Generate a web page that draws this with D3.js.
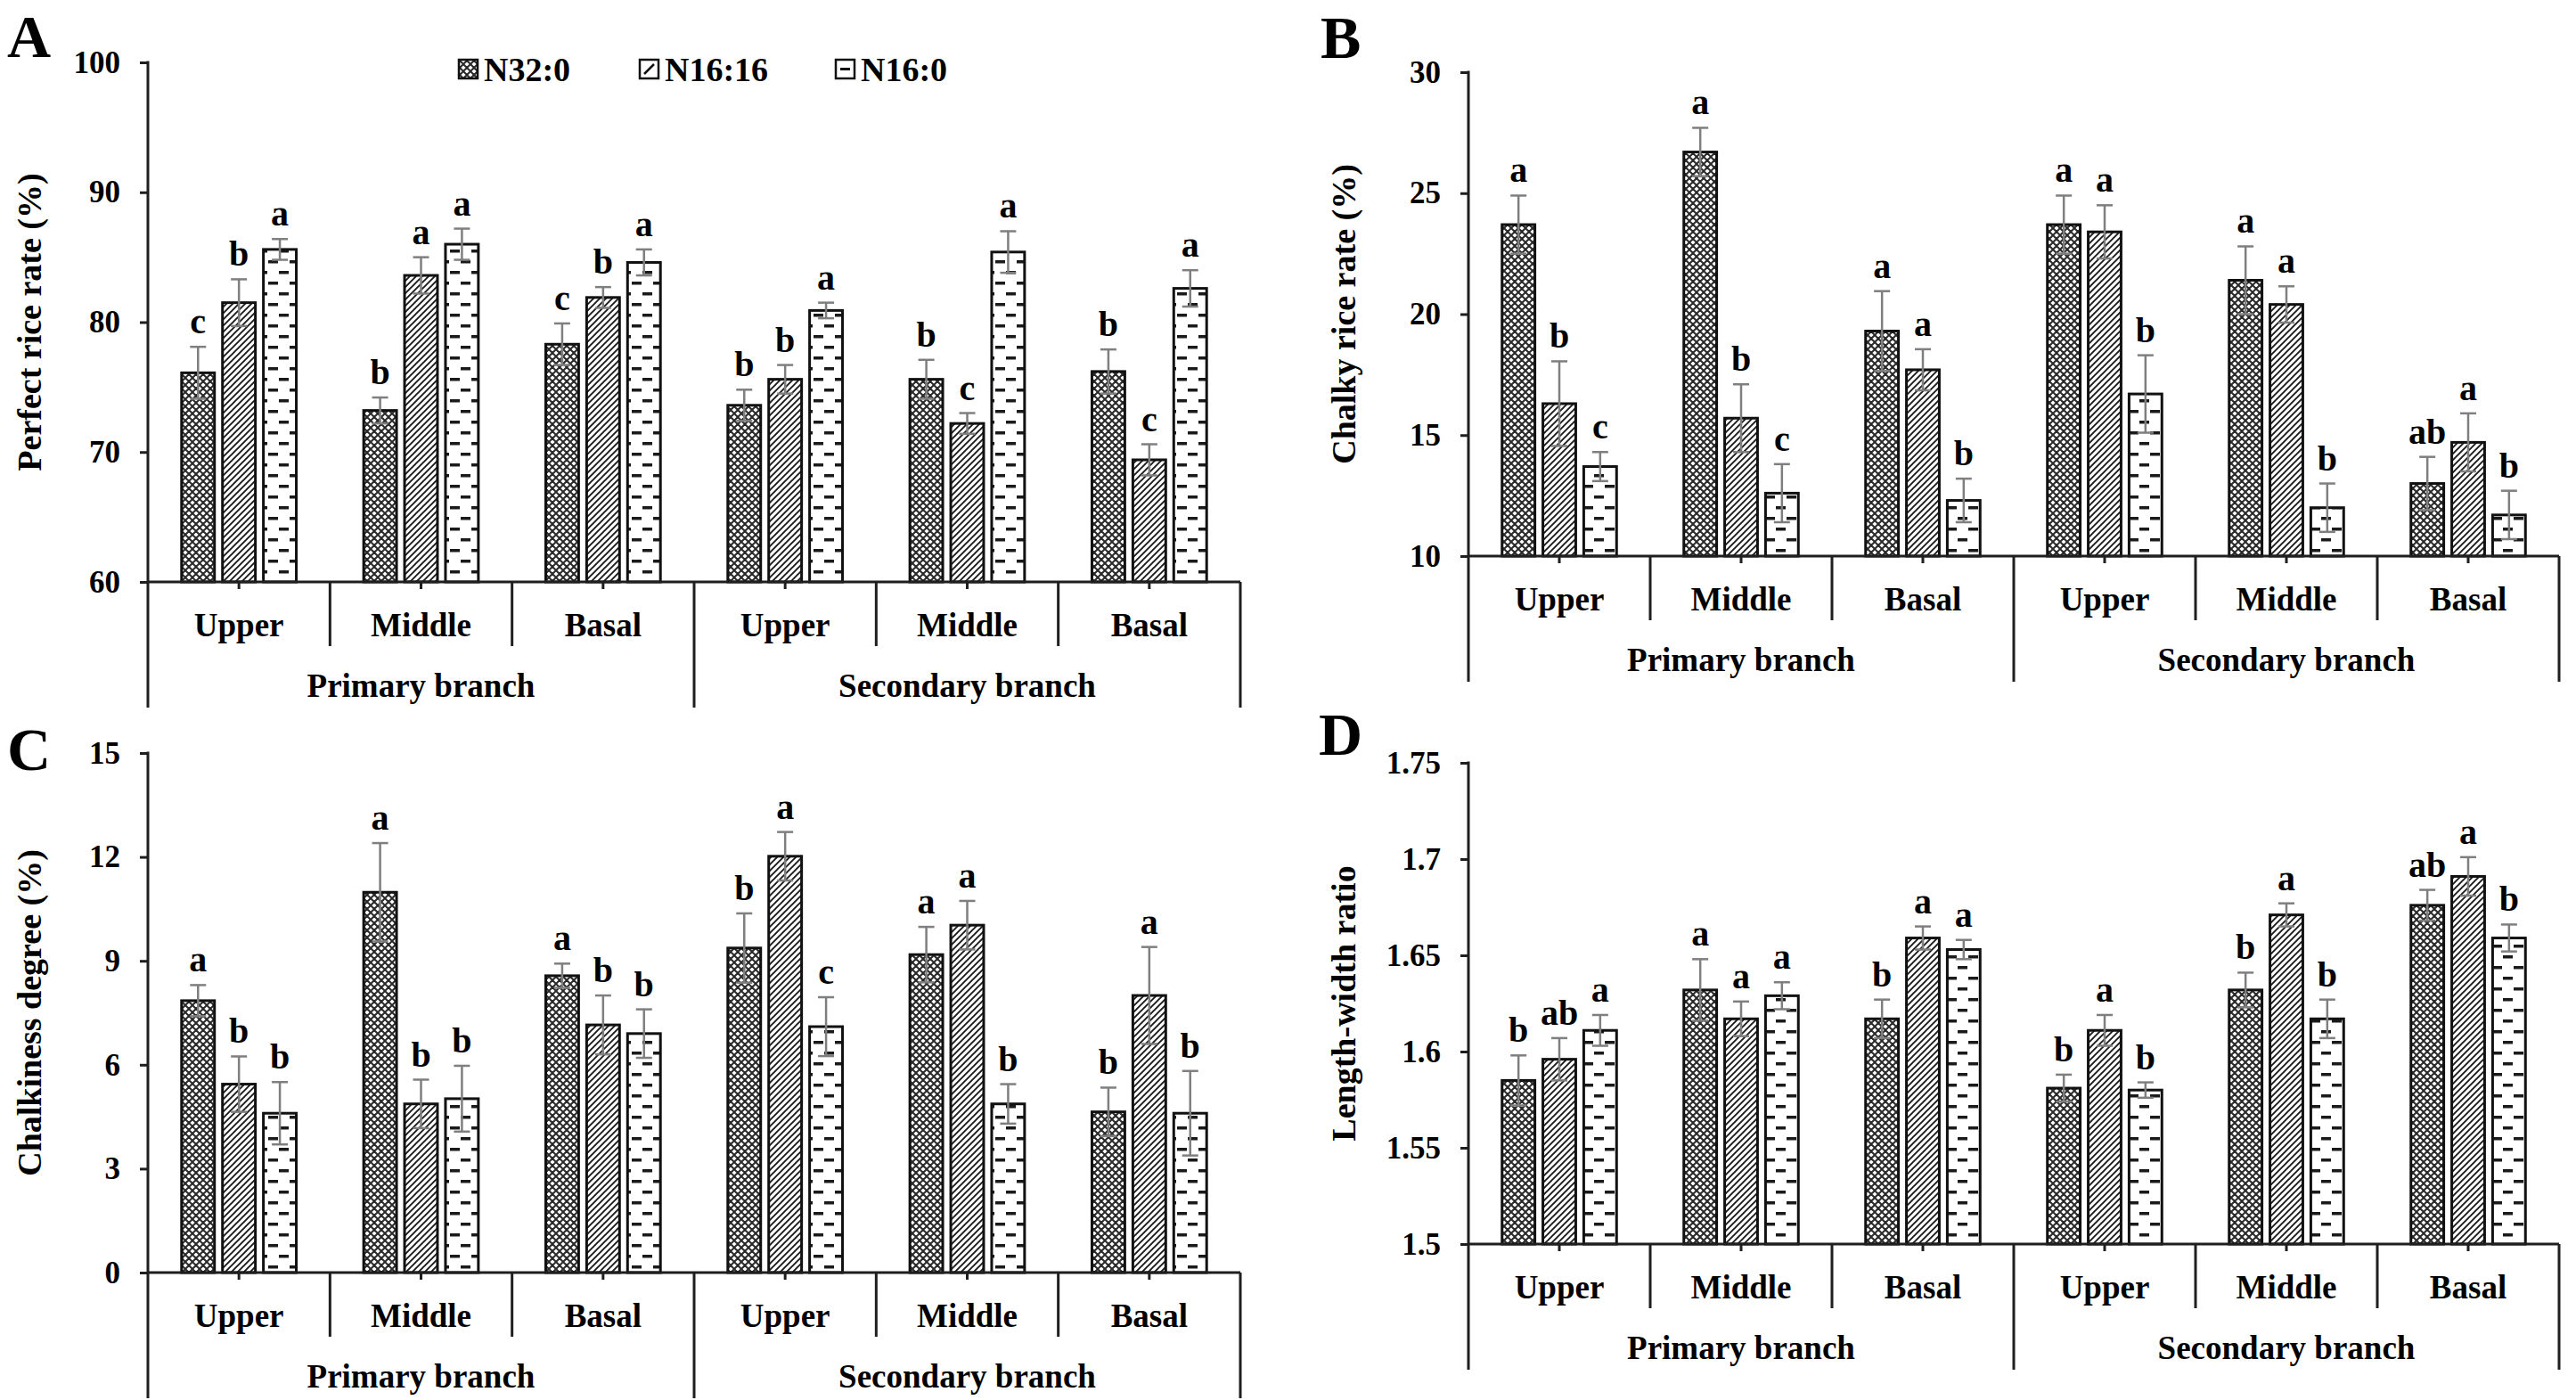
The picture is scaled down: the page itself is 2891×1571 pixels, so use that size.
<!DOCTYPE html>
<html>
<head>
<meta charset="utf-8">
<script src="https://cdn.jsdelivr.net/npm/d3@7"></script>
<style>
  html, body { margin: 0; padding: 0; background: #fff; }
  svg { display: block; }
  text { font-family: "Liberation Serif", "Times New Roman", serif; font-weight: bold; fill: #000; }
</style>
</head>
<body>
<svg id="chart" width="2891" height="1571"></svg>
<script>
// ---------- DATA ----------
const categories = ["Upper", "Middle", "Basal", "Upper", "Middle", "Basal"];
const groups = ["Primary branch", "Secondary branch"];
const series = ["N32:0", "N16:16", "N16:0"];

// A: Perfect rice rate (%)
const perfectN32_0 = [76.1, 73.2, 78.3, 73.6, 75.6, 76.2];
const perfectN16_16 = [81.5, 83.6, 81.9, 75.6, 72.2, 69.4];
const perfectN16_0 = [85.6, 86.0, 84.6, 80.9, 85.4, 82.6];
const perfectErrN32_0 = [2.0, 1.0, 1.6, 1.2, 1.5, 1.7];
const perfectErrN16_16 = [1.8, 1.4, 0.8, 1.1, 0.8, 1.2];
const perfectErrN16_0 = [0.8, 1.2, 1.0, 0.6, 1.6, 1.4];
const perfectLetN32_0 = ["c", "b", "c", "b", "b", "b"];
const perfectLetN16_16 = ["b", "a", "b", "b", "c", "c"];
const perfectLetN16_0 = ["a", "a", "a", "a", "a", "a"];
const perfectTicks = [60, 70, 80, 90, 100];

// B: Chalky rice rate (%)
const chalkyN32_0 = [23.7, 26.7, 19.3, 23.7, 21.4, 13.0];
const chalkyN16_16 = [16.3, 15.7, 17.7, 23.4, 20.4, 14.7];
const chalkyN16_0 = [13.7, 12.6, 12.3, 16.7, 12.0, 11.7];
const chalkyErrN32_0 = [1.2, 1.0, 1.65, 1.2, 1.4, 1.1];
const chalkyErrN16_16 = [1.75, 1.4, 0.85, 1.1, 0.75, 1.2];
const chalkyErrN16_0 = [0.6, 1.2, 0.9, 1.6, 1.0, 1.0];
const chalkyLetN32_0 = ["a", "a", "a", "a", "a", "ab"];
const chalkyLetN16_16 = ["b", "b", "a", "a", "a", "a"];
const chalkyLetN16_0 = ["c", "c", "b", "b", "b", "b"];
const chalkyTicks = [10, 15, 20, 25, 30];

// C: Chalkiness degree (%)
const degreeN32_0 = [7.85, 10.98, 8.57, 9.37, 9.18, 4.64];
const degreeN16_16 = [5.44, 4.87, 7.15, 12.02, 10.03, 8.0];
const degreeN16_0 = [4.6, 5.02, 6.9, 7.1, 4.87, 4.6];
const degreeErrN32_0 = [0.45, 1.42, 0.35, 1.0, 0.8, 0.7];
const degreeErrN16_16 = [0.8, 0.7, 0.85, 0.7, 0.7, 1.4];
const degreeErrN16_0 = [0.9, 0.95, 0.7, 0.85, 0.57, 1.22];
const degreeLetN32_0 = ["a", "a", "a", "b", "a", "b"];
const degreeLetN16_16 = ["b", "b", "b", "a", "a", "a"];
const degreeLetN16_0 = ["b", "b", "b", "c", "b", "b"];
const degreeTicks = [0, 3, 6, 9, 12, 15];

// D: Length-width ratio
const ratioN32_0 = [1.585, 1.632, 1.617, 1.581, 1.632, 1.676];
const ratioN16_16 = [1.596, 1.617, 1.659, 1.611, 1.671, 1.691];
const ratioN16_0 = [1.611, 1.629, 1.653, 1.580, 1.617, 1.659];
const ratioErrN32_0 = [0.013, 0.016, 0.010, 0.007, 0.009, 0.008];
const ratioErrN16_16 = [0.011, 0.009, 0.006, 0.008, 0.006, 0.010];
const ratioErrN16_0 = [0.008, 0.007, 0.005, 0.004, 0.010, 0.007];
const ratioLetN32_0 = ["b", "a", "b", "b", "b", "ab"];
const ratioLetN16_16 = ["ab", "a", "a", "a", "a", "a"];
const ratioLetN16_0 = ["a", "a", "a", "b", "b", "b"];
const ratioTicks = [1.5, 1.55, 1.6, 1.65, 1.7, 1.75];

// ---------- LAYOUT ----------
const panels = [
  { label: "A", title: "Perfect rice rate (%)", ticks: perfectTicks,
    values: [perfectN32_0, perfectN16_16, perfectN16_0],
    errs: [perfectErrN32_0, perfectErrN16_16, perfectErrN16_0],
    letters: [perfectLetN32_0, perfectLetN16_16, perfectLetN16_0],
    left: 166, right: 1392, top: 70, bottom: 653, titleX: 33, labelX: 8, labelY: 64, legend: true },
  { label: "B", title: "Chalky rice rate (%)", ticks: chalkyTicks,
    values: [chalkyN32_0, chalkyN16_16, chalkyN16_0],
    errs: [chalkyErrN32_0, chalkyErrN16_16, chalkyErrN16_0],
    letters: [chalkyLetN32_0, chalkyLetN16_16, chalkyLetN16_0],
    left: 1648, right: 2872, top: 81, bottom: 624, titleX: 1508, labelX: 1482, labelY: 65 },
  { label: "C", title: "Chalkiness degree (%)", ticks: degreeTicks,
    values: [degreeN32_0, degreeN16_16, degreeN16_0],
    errs: [degreeErrN32_0, degreeErrN16_16, degreeErrN16_0],
    letters: [degreeLetN32_0, degreeLetN16_16, degreeLetN16_0],
    left: 166, right: 1392, top: 845, bottom: 1428, titleX: 33, labelX: 8, labelY: 864 },
  { label: "D", title: "Length-width ratio", ticks: ratioTicks,
    values: [ratioN32_0, ratioN16_16, ratioN16_0],
    errs: [ratioErrN32_0, ratioErrN16_16, ratioErrN16_0],
    letters: [ratioLetN32_0, ratioLetN16_16, ratioLetN16_0],
    left: 1648, right: 2872, top: 856, bottom: 1396, titleX: 1508, labelX: 1480, labelY: 847 }
];

const svg = d3.select("#chart");
svg.append("rect").attr("width", 2891).attr("height", 1571).attr("fill", "#fff");

// ---------- PATTERNS ----------
const defs = svg.append("defs");
const pc = defs.append("pattern").attr("id", "pCross").attr("patternUnits", "userSpaceOnUse")
  .attr("width", 8).attr("height", 8);
pc.append("rect").attr("width", 8).attr("height", 8).attr("fill", "#fff");
pc.append("path").attr("d", "M0,0L8,8M-4,4L4,12M4,-4L12,4M0,8L8,0M-4,4L4,-4M4,12L12,4")
  .attr("stroke", "#2a2a2a").attr("stroke-width", 2.0);

const pd = defs.append("pattern").attr("id", "pDiag").attr("patternUnits", "userSpaceOnUse")
  .attr("width", 7).attr("height", 7);
pd.append("rect").attr("width", 7).attr("height", 7).attr("fill", "#fff");
pd.append("path").attr("d", "M0,7L7,0M-1,1L1,-1M6,8L8,6")
  .attr("stroke", "#1a1a1a").attr("stroke-width", 1.9);

const pdash = defs.append("pattern").attr("id", "pDash").attr("patternUnits", "userSpaceOnUse")
  .attr("width", 24).attr("height", 24);
pdash.append("rect").attr("width", 24).attr("height", 24).attr("fill", "#fff");
pdash.append("rect").attr("x", 13).attr("y", 4).attr("width", 11).attr("height", 3.5).attr("fill", "#1a1a1a");
pdash.append("rect").attr("x", 1).attr("y", 16).attr("width", 11).attr("height", 3.5).attr("fill", "#1a1a1a");

const fills = ["url(#pCross)", "url(#pDiag)", "url(#pDash)"];
const AX = "#1f1f1f";

// ---------- PANELS ----------
panels.forEach(p => {
  const g = svg.append("g");
  const y = d3.scaleLinear().domain([p.ticks[0], p.ticks[p.ticks.length - 1]]).range([p.bottom, p.top]);
  const x0 = d3.scaleBand().domain(d3.range(categories.length)).range([p.left, p.right]).padding(0);
  const cw = x0.bandwidth();
  const x1 = d3.scaleBand().domain(series).range([-cw * 0.315, cw * 0.315]).paddingInner(0.196).paddingOuter(0);

  // bars
  series.forEach((s, si) => {
    const bars = g.append("g");
    bars.selectAll("rect").data(p.values[si]).join("rect")
      .attr("x", (d, i) => x0(i) + cw / 2 + x1(s))
      .attr("width", x1.bandwidth())
      .attr("y", d => y(d))
      .attr("height", d => p.bottom - y(d))
      .attr("fill", fills[si])
      .attr("stroke", "#111").attr("stroke-width", 3);
  });

  // error bars + letters
  series.forEach((s, si) => {
    const eg = g.append("g").attr("stroke", "#7f7f7f").attr("stroke-width", 2.5);
    p.values[si].forEach((v, i) => {
      const cx = x0(i) + cw / 2 + x1(s) + x1.bandwidth() / 2;
      const e = p.errs[si][i];
      const yt = y(v + e), yb = y(v - e);
      eg.append("line").attr("x1", cx).attr("x2", cx).attr("y1", yt).attr("y2", yb);
      eg.append("line").attr("x1", cx - 9).attr("x2", cx + 9).attr("y1", yt).attr("y2", yt);
      eg.append("line").attr("x1", cx - 9).attr("x2", cx + 9).attr("y1", yb).attr("y2", yb);
      g.append("text").attr("x", cx).attr("y", yt - 15).attr("text-anchor", "middle")
        .attr("font-size", 40).text(p.letters[si][i]);
    });
  });

  // y axis
  const axis = d3.axisLeft(y).tickValues(p.ticks).tickSize(9).tickSizeOuter(0).tickPadding(22)
    .tickFormat(d => String(d));
  const ag = g.append("g").attr("transform", `translate(${p.left},0)`).call(axis);
  ag.select(".domain").remove();
  ag.selectAll(".tick line").attr("stroke", AX).attr("stroke-width", 3);
  ag.selectAll(".tick text").attr("font-size", 35)
    .attr("font-family", "'Liberation Serif','Times New Roman',serif").attr("font-weight", "bold").attr("fill", "#000");

  const lines = g.append("g").attr("stroke", AX).attr("stroke-width", 3);
  const groupDepth = 141, sepDepth = 72;
  lines.append("line").attr("x1", p.left).attr("x2", p.left).attr("y1", p.top - 1.5).attr("y2", p.bottom + groupDepth);
  lines.append("line").attr("x1", p.left).attr("x2", p.right).attr("y1", p.bottom).attr("y2", p.bottom);
  d3.range(1, categories.length + 1).forEach(i => {
    const xx = i < categories.length ? x0(i) : p.right;
    const depth = (i % 3 === 0) ? groupDepth : sepDepth;
    lines.append("line").attr("x1", xx).attr("x2", xx).attr("y1", p.bottom).attr("y2", p.bottom + depth);
  });
  categories.forEach((c, i) => {
    const cx = x0(i) + cw / 2;
    lines.append("line").attr("x1", cx).attr("x2", cx).attr("y1", p.bottom).attr("y2", p.bottom + 8);
  });

  // category labels
  categories.forEach((c, i) => {
    g.append("text").attr("x", x0(i) + cw / 2).attr("y", p.bottom + 61)
      .attr("text-anchor", "middle").attr("font-size", 37).text(c);
  });
  groups.forEach((gr, gi) => {
    const cx = (x0(gi * 3) + x0(gi * 3 + 2) + cw) / 2;
    g.append("text").attr("x", cx).attr("y", p.bottom + 129)
      .attr("text-anchor", "middle").attr("font-size", 37).text(gr);
  });

  // y title
  const cy = (p.top + p.bottom) / 2;
  g.append("text").attr("transform", `translate(${p.titleX},${cy}) rotate(-90)`)
    .attr("text-anchor", "middle").attr("dominant-baseline", "central")
    .attr("font-size", 38).text(p.title);

  // panel letter
  g.append("text").attr("x", p.labelX).attr("y", p.labelY).attr("font-size", 68).text(p.label);

  // legend
  if (p.legend) {
    const lx = [515, 718, 938];
    const lg = g.append("g");
    series.forEach((s, si) => {
      const sx = lx[si], sy = 67;
      lg.append("rect").attr("x", sx).attr("y", sy).attr("width", 21).attr("height", 21)
        .attr("fill", si === 0 ? fills[0] : "#fff").attr("stroke", "#111").attr("stroke-width", 2.5);
      if (si === 1) lg.append("line").attr("x1", sx + 5).attr("y1", sy + 16).attr("x2", sx + 16).attr("y2", sy + 5)
        .attr("stroke", "#111").attr("stroke-width", 2.5);
      if (si === 2) lg.append("line").attr("x1", sx + 5).attr("y1", sy + 10.5).attr("x2", sx + 16).attr("y2", sy + 10.5)
        .attr("stroke", "#111").attr("stroke-width", 3);
      lg.append("text").attr("x", sx + 28).attr("y", 91).attr("font-size", 38).text(s);
    });
  }
});
</script>
</body>
</html>
